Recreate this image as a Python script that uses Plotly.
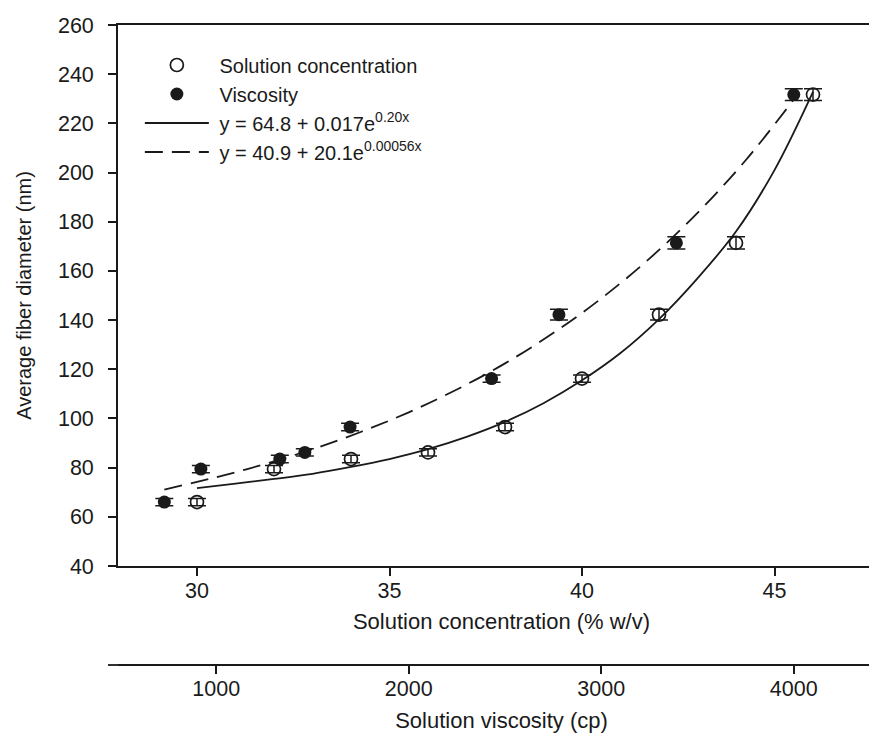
import plotly.graph_objects as go

# ---- data ----
concentration = [30, 32, 34, 36, 38, 40, 42, 44, 46]            # % w/v
viscosity = [730, 920, 1330, 1460, 1695, 2430, 2780, 3390, 4000]  # cp
diameter = [66, 79.4, 83.5, 86.2, 96.5, 116.2, 142.2, 171.4, 231.7]  # nm
diameter_err = [1.5, 1.5, 1.5, 1.5, 1.5, 1.5, 2.2, 2.5, 2.4]

# fitted curves as drawn
fit_conc_x = [30, 31, 32, 33, 34, 35, 36, 37, 38, 39, 40, 41, 42, 43, 44, 45, 46]
fit_conc_y = [71.7, 73.5, 75.4, 77.5, 80.3, 83.5, 87.5, 92.5, 98.6, 106.2,
              115.5, 126.6, 140.4, 157.0, 176.0, 201.0, 232.8]
fit_visc_x = [730, 1000, 1250, 1500, 1750, 2000, 2250, 2500, 2750, 3000,
              3250, 3500, 3750, 4000]
fit_visc_y = [71.1, 76.1, 81.4, 87.5, 94.5, 102.5, 111.8, 122.4, 134.7,
              148.8, 165.0, 183.6, 205.0, 229.7]

conc_ticks = [30, 35, 40, 45]
visc_ticks = [1000, 2000, 3000, 4000]
y_ticks = list(range(40, 261, 20))

legend_names = [
    "\u00a0Solution concentration",
    "\u00a0Viscosity",
    "\u00a0y = 64.8 + 0.017e<sup>0.20x</sup>",
    "\u00a0y = 40.9 + 20.1e<sup>0.00056x</sup>",
]

FONT = "Liberation Sans, Arial, sans-serif"
INK = "#1a1a1a"

fig = go.Figure()

fig.add_trace(go.Scatter(
    x=concentration, y=diameter, mode="markers", name=legend_names[0],
    marker=dict(symbol="circle-open", size=13, color=INK, line=dict(width=1.7, color=INK)),
    error_y=dict(type="data", array=diameter_err, color=INK, thickness=1.5, width=9),
    xaxis="x", yaxis="y",
))
fig.add_trace(go.Scatter(
    x=viscosity, y=diameter, mode="markers", name=legend_names[1],
    marker=dict(symbol="circle", size=13, color=INK),
    error_y=dict(type="data", array=diameter_err, color=INK, thickness=1.5, width=9),
    xaxis="x2", yaxis="y",
))
fig.add_trace(go.Scatter(
    x=fit_conc_x, y=fit_conc_y, mode="lines", line_shape="spline",
    name=legend_names[2],
    line=dict(color=INK, width=1.8),
    xaxis="x", yaxis="y",
))
fig.add_trace(go.Scatter(
    x=fit_visc_x, y=fit_visc_y, mode="lines", line_shape="spline",
    name=legend_names[3],
    line=dict(color=INK, width=1.8, dash="18px,9px"),
    xaxis="x2", yaxis="y",
))

W, H = 877, 740
ml, mr, mt, mb = 100, 0, 17, 83
plot_w = W - ml - mr
plot_h = H - mt - mb
x_dom = [10 / plot_w, 1]
y_dom = [99 / plot_h, 1]

axis_common = dict(
    showline=True, linecolor=INK, linewidth=1.8,
    ticks="outside", ticklen=8, tickwidth=1.5, tickcolor=INK,
    showgrid=False, zeroline=False,
    tickfont=dict(family=FONT, size=21.5, color=INK),
)

fig.update_layout(
    width=W, height=H,
    margin=dict(l=ml, r=mr, t=mt, b=mb),
    paper_bgcolor="white", plot_bgcolor="white",
    font=dict(family=FONT, color=INK),
    xaxis=dict(
        **axis_common, domain=x_dom, anchor="y", range=[27.948, 47.870],
        tickvals=conc_ticks, mirror=True, ticklabelstandoff=-4,
        title=dict(text="Solution concentration (% w/v)", font=dict(family=FONT, size=22, color=INK), standoff=12),
    ),
    xaxis2=dict(
        **axis_common, domain=x_dom, anchor="free", position=0, overlaying="x",
        side="bottom", range=[489.4, 4473.8], tickvals=visc_ticks, ticklabelstandoff=-4,
        title=dict(text="Solution viscosity (cp)", font=dict(family=FONT, size=22, color=INK), standoff=12),
    ),
    yaxis=dict(
        **axis_common, domain=y_dom, anchor="x", range=[40, 260], tickvals=y_ticks,
        ticklabelstandoff=10,
        title=dict(text="Average fiber diameter (nm)", font=dict(family=FONT, size=20, color=INK), standoff=21),
    ),
    legend=dict(
        x=0.041, y=0.968, xanchor="left", yanchor="top",
        bgcolor="rgba(0,0,0,0)", itemwidth=64,
        font=dict(family=FONT, size=20, color=INK),
        tracegroupgap=0,
    ),
    showlegend=True,
)

# small left extension of the viscosity axis line
fig.add_shape(type="line", xref="paper", yref="paper", x0=0, x1=x_dom[0], y0=0, y1=0,
              line=dict(color=INK, width=1.8))

fig.write_html("out.html")
